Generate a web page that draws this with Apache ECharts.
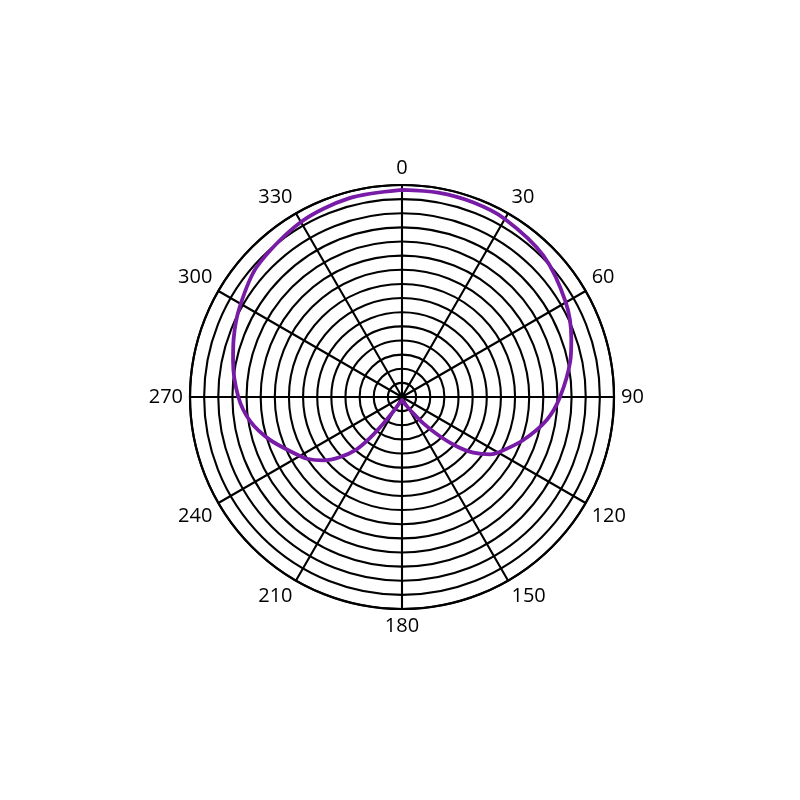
<!DOCTYPE html>
<html>

<head>
    <meta http-equiv="Content-Type" content="text/html; charset=utf-8">
    <title>Polar pattern</title>
    <script src="https://cdn.jsdelivr.net/npm/echarts@6/dist/echarts.min.js"></script>
    <style>
        html, body { margin: 0; padding: 0; background: #fff; }
        #chart { width: 800px; height: 800px; }
    </style>
</head>

<body>
    <div id="chart"></div>
    <script>
    var angles = [0, 10, 20, 30, 45, 60, 71, 78, 90, 99, 110, 120, 123, 128, 132, 136, 141, 148, 155, 165, 180,
        195, 205, 211, 215, 218, 221, 226, 231, 237, 242, 252, 261, 270, 282, 289, 299, 312, 330, 345, 360];
    var levels = [14.65, 14.68, 14.66, 14.55, 14.15, 13.38, 12.67, 12.17, 11.18, 10.37, 9.05, 7.85, 7.46, 6.4, 5.23, 3.89, 2.4, 1.08, 0.6, 0.35, 0.2,
        0.35, 0.6, 1.2, 2.29, 3.7, 4.93, 6.14, 7.13, 8.02, 8.55, 9.82, 10.88, 11.58, 12.22, 12.6, 13.13, 13.8, 14.3, 14.55, 14.65];
    var angleTicks = [0, 30, 60, 90, 120, 150, 180, 210, 240, 270, 300, 330];

    var pts = [];
    for (var i = 0; i < angles.length; i++) pts.push([levels[i], angles[i]]);

    var chart = echarts.init(document.getElementById("chart"));
    chart.setOption({
        animation: false,
        polar: { center: [402, 397], radius: 212 },
        angleAxis: {
            type: "value",
            min: 0,
            max: 360,
            interval: 30,
            startAngle: 90,
            clockwise: true,
            axisLine: { show: true, lineStyle: { color: "#000", width: 2.2 } },
            axisTick: { show: false },
            splitLine: { show: true, lineStyle: { color: "#000", width: 2.1 } },
            axisLabel: {
                margin: 7,
                color: "#000",
                fontSize: 20,
                fontFamily: "Open Sans",
                formatter: function(v) { return angleTicks.indexOf(v) >= 0 ? String(v) : ""; }
            }
        },
        radiusAxis: {
            type: "value",
            min: 0,
            max: 15,
            interval: 1,
            axisLine: { show: false },
            axisTick: { show: false },
            axisLabel: { show: false },
            splitLine: { show: true, lineStyle: { color: "#000", width: 2.1 } }
        },
        series: [{
            type: "line",
            coordinateSystem: "polar",
            data: pts,
            smooth: 0.3,
            symbol: "none",
            lineStyle: { color: "#781ca8", width: 3.8 }
        }]
    });
    </script>
</body>

</html>
